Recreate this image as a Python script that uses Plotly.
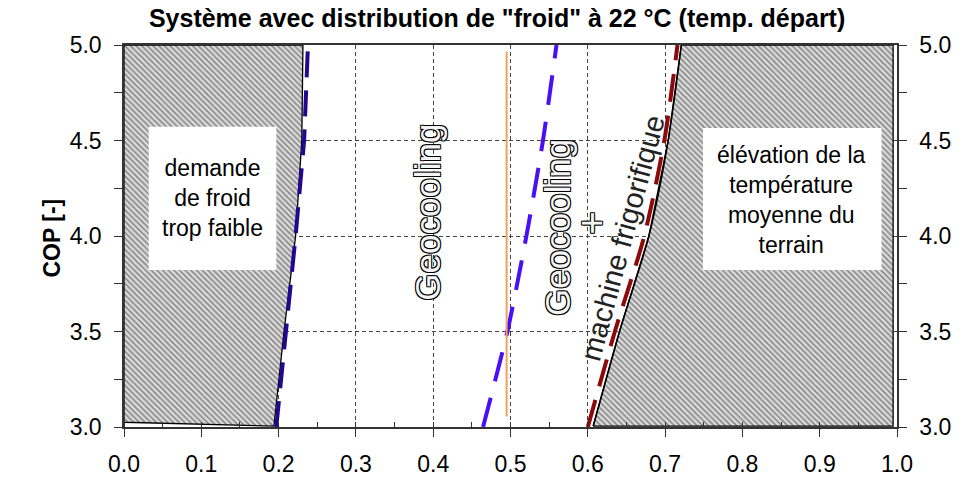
import plotly.graph_objects as go

# ---- data ----
cop_levels = [3.0, 3.5, 4.0, 4.5, 5.0]
left_limit_x = [0.194, 0.207, 0.222, 0.230, 0.2315]     # black boundary, "demande trop faible"
right_limit_x = [0.607, 0.641, 0.679, 0.704, 0.721]     # black boundary, "élévation"
navy_line_x = [0.197, 0.210, 0.222, 0.233, 0.238]
blue_line_x = [0.4645, 0.496, 0.5206, 0.542, 0.5595]
red_line_x = [0.600, 0.635, 0.673, 0.699, 0.716]
orange_x = [0.495, 0.495]
orange_y = [3.055, 4.965]

x_ticks = [0.0, 0.1, 0.2, 0.3, 0.4, 0.5, 0.6, 0.7, 0.8, 0.9, 1.0]
y_ticks = [3.0, 3.5, 4.0, 4.5, 5.0]

title = 'Système avec distribution de "froid" à 22 °C (temp. départ)'
y_title = "COP [-]"
left_text = "demande<br>de froid<br>trop faible"
right_text = "élévation de la<br>température<br>moyenne du<br>terrain"

FONT = "Liberation Sans, Arial, sans-serif"
OUTLINE = "1px 1px 0 #000, -1px -1px 0 #000, 1px -1px 0 #000, -1px 1px 0 #000"

fig = go.Figure()

hatch = dict(shape="\\", size=4, solidity=0.4, fgcolor="#333333", bgcolor="#dcdcdc")

# left hatched zone
lx = [0.0, 0.0] + list(reversed(left_limit_x)) + [0.0]
ly = [3.025, 5.0] + list(reversed(cop_levels[1:])) + [3.005, 3.025]
fig.add_trace(go.Scatter(x=lx, y=ly, mode="lines", fill="toself", fillpattern=hatch,
                         line=dict(color="black", width=1.3), hoverinfo="skip", showlegend=False))

# right hatched zone (fill) + smooth boundary line
rx = list(right_limit_x) + [0.995, 0.995, right_limit_x[0]]
ry = [3.005] + cop_levels[1:] + [5.0, 3.005, 3.005]
fig.add_trace(go.Scatter(x=rx, y=ry, mode="lines", fill="toself", fillpattern=hatch,
                         line=dict(color="black", width=1.3),
                         hoverinfo="skip", showlegend=False))
fig.add_trace(go.Scatter(x=right_limit_x, y=[3.005] + cop_levels[1:], mode="lines",
                         line=dict(color="black", width=1.5, shape="spline", smoothing=0.8),
                         hoverinfo="skip", showlegend=False))

# dashed lines
fig.add_trace(go.Scatter(x=navy_line_x, y=cop_levels, mode="lines",
                         line=dict(color="#22088f", width=4, dash="26px,13px"),
                         hoverinfo="skip", showlegend=False))
fig.add_trace(go.Scatter(x=blue_line_x, y=cop_levels, mode="lines",
                         line=dict(color="#4a10f5", width=4, dash="30px,17px", shape="spline", smoothing=0.6),
                         hoverinfo="skip", showlegend=False))
fig.add_trace(go.Scatter(x=red_line_x, y=cop_levels, mode="lines",
                         line=dict(color="#8e0a0a", width=4, dash="28px,14px", shape="spline", smoothing=0.8),
                         hoverinfo="skip", showlegend=False))
fig.add_trace(go.Scatter(x=orange_x, y=orange_y, mode="lines",
                         line=dict(color="#f2a060", width=2),
                         hoverinfo="skip", showlegend=False))
# dummy trace for right axis
fig.add_trace(go.Scatter(x=[0.5], y=[4.0], yaxis="y2", mode="markers",
                         marker=dict(opacity=0), hoverinfo="skip", showlegend=False))

# white boxes
fig.add_shape(type="rect", x0=0.032, x1=0.197, y0=3.822, y1=4.572,
              fillcolor="white", line=dict(width=0), layer="above")
fig.add_shape(type="rect", x0=0.749, x1=0.980, y0=3.822, y1=4.565,
              fillcolor="white", line=dict(width=0), layer="above")

fig.add_annotation(x=0.1146, y=4.199, text=left_text, showarrow=False,
                   font=dict(family=FONT, size=23, color="black"))
fig.add_annotation(x=0.864, y=4.188, text=right_text, showarrow=False,
                   font=dict(family=FONT, size=23, color="black"))

fig.add_annotation(x=0.393, y=4.126, text="Geocooling", showarrow=False, textangle=-90,
                   font=dict(family=FONT, size=35, color="#f4f4f4", shadow=OUTLINE))
fig.add_annotation(x=0.560, y=4.047, text="Geocooling", showarrow=False, textangle=-90,
                   font=dict(family=FONT, size=35, color="#f4f4f4", shadow=OUTLINE))
fig.add_annotation(x=0.605, y=4.068, text="+", showarrow=False, textangle=-90,
                   font=dict(family=FONT, size=40, color="#f4f4f4", shadow=OUTLINE))
fig.add_annotation(x=0.645, y=3.99, text="machine frigorifique", showarrow=False, textangle=-75,
                   font=dict(family=FONT, size=29, color="#222"))

# y axis title
fig.add_annotation(xref="paper", yref="paper", x=-0.113, y=0.495, text=y_title,
                   showarrow=False, textangle=-90,
                   font=dict(family=FONT, size=23, color="black", weight="bold"))

axis_common = dict(showline=True, linecolor="#333", linewidth=1.5,
                   ticks="outside", ticklen=8, tickcolor="#333",
                   tickfont=dict(family=FONT, size=23, color="black"),
                   zeroline=False, showgrid=True, gridcolor="#444", gridwidth=1,
                   griddash="4px,3px", automargin=False)

fig.update_layout(
    width=969, height=483,
    margin=dict(l=124, r=72, t=45, b=56, autoexpand=False),
    paper_bgcolor="white", plot_bgcolor="white",
    title=dict(text=title, x=0.513, xanchor="center", y=0.962, yanchor="middle",
               font=dict(family=FONT, size=25, color="black", weight="bold")),
    xaxis=dict(range=[0, 1], tickvals=x_ticks, tickformat=".1f", mirror=True,
               ticklabelstandoff=8,
               minor=dict(dtick=0.05, ticks="inside", ticklen=5, tickcolor="#333", showgrid=False),
               **axis_common),
    yaxis=dict(range=[3.0, 5.0], tickvals=y_ticks, tickformat=".1f", mirror=True,
               ticklabelstandoff=8,
               minor=dict(dtick=0.25, ticks="outside", ticklen=8, tickcolor="#333", showgrid=False),
               **axis_common),
    yaxis2=dict(range=[3.0, 5.0], tickvals=y_ticks, tickformat=".1f", overlaying="y", side="right",
                showline=True, linecolor="#333", linewidth=1.5, ticks="outside", ticklen=8,
                ticklabelstandoff=8, automargin=False,
                tickcolor="#333", tickfont=dict(family=FONT, size=23, color="black"),
                minor=dict(dtick=0.25, ticks="outside", ticklen=8, tickcolor="#333"),
                showgrid=False, zeroline=False),
)

fig.write_html("out.html")
